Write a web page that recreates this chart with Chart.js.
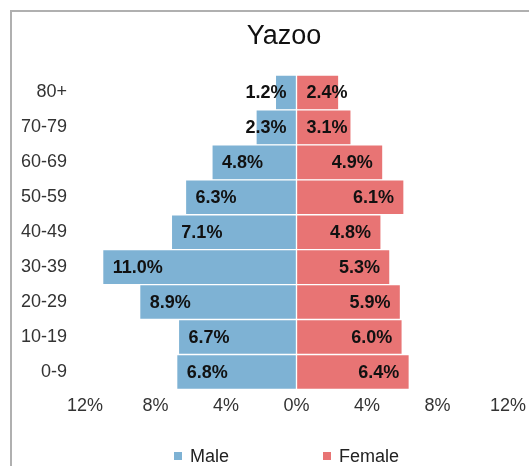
<!DOCTYPE html>
<html>
<head>
<meta charset="utf-8">
<script src="https://cdn.jsdelivr.net/npm/chart.js@4"></script>
<style>
  html, body { margin: 0; padding: 0; background: #fff; overflow: hidden; }
  body { width: 529px; height: 466px; position: relative; }
  #frame {
    position: absolute; left: 10px; top: 10px;
    width: 600px; height: 500px;
    border-left: 2px solid #b0b0b0; border-top: 2px solid #b0b0b0;
  }
  #chart { position: absolute; left: 0; top: 0; }
  .legend-item {
    position: absolute; top: 447px; height: 18px;
    display: flex; align-items: center;
    font: 18px 'Liberation Sans', Arial, sans-serif; color: #222;
  }
  .legend-item span.box { width: 8px; height: 8px; margin-right: 8px; display: inline-block; }
</style>
</head>
<body>
<div id="frame"><canvas id="chart" width="556" height="454"></canvas></div>
<div id="legend"></div>
<script>
// age groups, top to bottom
const ageGroups = ['80+', '70-79', '60-69', '50-59', '40-49', '30-39', '20-29', '10-19', '0-9'];
const maleShare = [1.2, 2.3, 4.8, 6.3, 7.1, 11.0, 8.9, 6.7, 6.8];
const femaleShare = [2.4, 3.1, 4.9, 6.1, 4.8, 5.3, 5.9, 6.0, 6.4];
const seriesNames = ['Male', 'Female'];
const seriesColors = ['#7eb2d4', '#e87474'];
const xTicks = [-12, -8, -4, 0, 4, 8, 12];

Chart.defaults.font.family = "'Liberation Sans', Arial, sans-serif";

// draws the percentage labels near the outer end of each bar
const barLabels = {
  id: 'barLabels',
  afterDatasetsDraw(chart) {
    const ctx = chart.ctx;
    ctx.save();
    ctx.font = "bold 18px 'Liberation Sans', Arial, sans-serif";
    ctx.fillStyle = '#111';
    ctx.textBaseline = 'middle';
    ctx.textAlign = 'left';
    chart.data.datasets.forEach(function(ds, i) {
      const meta = chart.getDatasetMeta(i);
      meta.data.forEach(function(bar, j) {
        const text = ds.shares[j].toFixed(1) + '%';
        const w = ctx.measureText(text).width;
        let x;
        if (i === 0) {
          x = bar.x + 10;
          if (x + w > bar.base - 10) x = bar.base - 10 - w;
        } else {
          x = bar.x - 10 - w;
          if (x < bar.base + 10) x = bar.base + 10;
        }
        ctx.fillText(text, x, bar.y + 1);
      });
    });
    ctx.restore();
  }
};

const chart = new Chart(document.getElementById('chart'), {
  type: 'bar',
  data: {
    labels: ageGroups,
    datasets: [
      {
        label: seriesNames[0],
        data: maleShare.map(v => -v),
        shares: maleShare,
        backgroundColor: seriesColors[0]
      },
      {
        label: seriesNames[1],
        data: femaleShare,
        shares: femaleShare,
        backgroundColor: seriesColors[1]
      }
    ]
  },
  options: {
    indexAxis: 'y',
    responsive: false,
    animation: false,
    layout: { padding: { left: 0, right: 12, top: 0, bottom: 43 } },
    datasets: {
      bar: {
        barPercentage: 1,
        categoryPercentage: 1,
        borderWidth: 1,
        borderColor: '#ffffff',
        borderSkipped: false
      }
    },
    scales: {
      x: {
        stacked: true,
        min: -12,
        max: 12,
        afterBuildTicks(scale) {
          scale.ticks = xTicks.map(v => ({ value: v }));
        },
        afterFit(scale) {
          scale.paddingRight = 60;
        },
        grid: { display: false, drawTicks: false },
        border: { display: false },
        ticks: {
          padding: 6,
          color: '#333',
          font: { size: 18 },
          maxRotation: 0,
          callback: v => Math.abs(v) + '%'
        }
      },
      y: {
        stacked: true,
        afterFit(scale) {
          scale.width = 73;
        },
        grid: { display: false, drawTicks: false },
        border: { display: false },
        ticks: {
          padding: 18,
          color: '#333',
          font: { size: 18 }
        }
      }
    },
    plugins: {
      title: {
        display: true,
        text: 'Yazoo',
        color: '#111',
        font: { size: 27, weight: 'normal' },
        padding: { top: 8, bottom: 22.6 }
      },
      legend: { display: false },
      tooltip: { enabled: false }
    }
  },
  plugins: [barLabels]
});

// legend below the chart
const legendLeft = [174, 323];
const legend = document.getElementById('legend');
seriesNames.forEach(function(name, i) {
  const item = document.createElement('div');
  item.className = 'legend-item';
  item.style.left = legendLeft[i] + 'px';
  item.innerHTML = '<span class="box" style="background:' + seriesColors[i] + '"></span>' + name;
  legend.appendChild(item);
});
</script>
</body>
</html>
